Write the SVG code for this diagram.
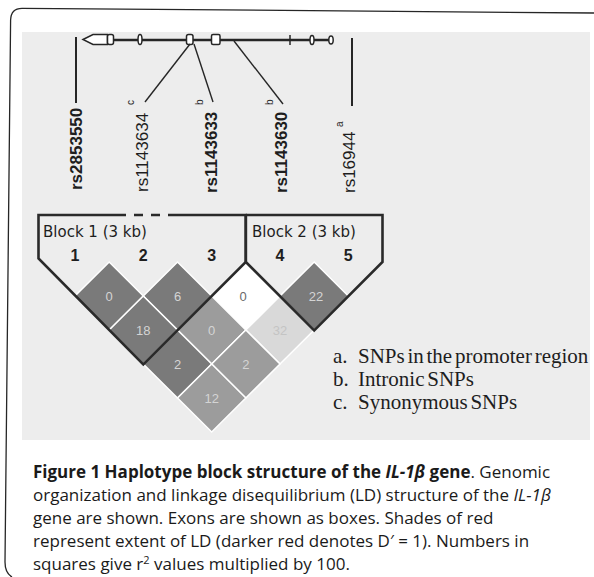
<svg xmlns="http://www.w3.org/2000/svg" width="594" height="577" viewBox="0 0 594 577">
  <style>
    .ink { stroke: #262626; fill: none; }
    .feat { stroke: #262626; stroke-width: 1.5; fill: #ffffff; }
    .rs { font-family: "Liberation Sans", Arial, sans-serif; font-size: 17px; font-weight: bold; fill: #1e1e1e; }
    .sup { font-family: "Liberation Sans", Arial, sans-serif; font-size: 10px; fill: #1e1e1e; }
    .blk { font-family: "DejaVu Sans", Tahoma, sans-serif; font-size: 15px; fill: #1e1e1e; }
    .idx { font-family: "Liberation Sans", Arial, sans-serif; font-size: 16px; font-weight: bold; fill: #1e1e1e; text-anchor: middle; }
    .cell { stroke: #ffffff; stroke-width: 1.5; }
    .dark { fill: #7a7a7a; }
    .mid { fill: #9c9c9c; }
    .pale { fill: #d9d9d9; }
    .blank { fill: #ffffff; }
    .val { font-family: "Liberation Sans", Arial, sans-serif; font-size: 13px; fill: #d4d4d4; text-anchor: middle; }
    .outline { stroke: #2a2a2a; stroke-width: 2.6; fill: none; stroke-linejoin: miter; }
    .leg { font-family: "Liberation Serif", "Times New Roman", serif; font-size: 21px; fill: #1e1e1e; word-spacing: -2.5px; }
    .cap { font-family: "Open Sans", "Noto Sans", sans-serif; font-size: 17px; fill: #1a1a1a; }
  </style>

  <!-- page frame (open on the right) -->
  <g id="frame">
    <path class="ink" stroke-width="1.3" d="M594,13 L22,8.3 Q11,8.3 10.6,20 L5,562 Q5,573 12,577"/>
  </g>

  <!-- speckled figure panel -->
  <rect id="panel" x="22" y="32" width="568" height="408" fill="#ededed"/>

  <!-- gene map: exons, promoter arrow and SNP pointers -->
  <g id="gene-map">
    <line class="ink" stroke-width="2.5" x1="112" y1="40" x2="332" y2="40"/>
    <path class="feat" d="M83,39.5 L93,34.5 H107.5 V44.5 H93 Z"/>
    <rect class="feat" x="107.5" y="34.5" width="6" height="10" rx="2"/>
    <ellipse class="feat" cx="140" cy="39.5" rx="2" ry="5"/>
    <rect class="feat" x="186.5" y="34.5" width="6.5" height="10" rx="2"/>
    <rect class="feat" x="211.5" y="34.5" width="8.5" height="10" rx="1.5"/>
    <line class="ink" stroke-width="1.5" x1="290" y1="35" x2="290" y2="45"/>
    <ellipse class="feat" cx="312" cy="40" rx="2" ry="4.5"/>
    <ellipse class="feat" cx="331" cy="40" rx="2.2" ry="4"/>
  </g>

  <g id="connectors">
    <line class="ink" stroke-width="2" x1="76" y1="37" x2="76" y2="103"/>
    <line class="ink" stroke-width="2" x1="352" y1="38" x2="352" y2="106"/>
    <line class="ink" stroke-width="1.4" x1="190" y1="44" x2="145" y2="102"/>
    <line class="ink" stroke-width="1.4" x1="194" y1="44" x2="213" y2="102"/>
    <line class="ink" stroke-width="1.4" x1="234" y1="41" x2="283" y2="104"/>
  </g>

  <!-- SNP names, read bottom to top -->
  <g id="snp-rs2853550"><text class="rs" transform="translate(82,190) rotate(-90)">rs2853550</text></g>
  <g id="snp-rs1143634">
    <text class="rs" style="font-weight:normal" transform="translate(148,192) rotate(-90)">rs1143634</text>
    <text class="sup" transform="translate(134,105) rotate(-90)">c</text>
  </g>
  <g id="snp-rs1143633">
    <text class="rs" transform="translate(217,193) rotate(-90)">rs1143633</text>
    <text class="sup" transform="translate(203,105) rotate(-90)">b</text>
  </g>
  <g id="snp-rs1143630">
    <text class="rs" transform="translate(287,193) rotate(-90)">rs1143630</text>
    <text class="sup" transform="translate(273,105) rotate(-90)">b</text>
  </g>
  <g id="snp-rs16944">
    <text class="rs" style="font-weight:normal" transform="translate(355,193) rotate(-90)">rs16944</text>
    <text class="sup" transform="translate(343,127) rotate(-90)">a</text>
  </g>

  <!-- LD matrix: one rotated square per SNP pair -->
  <g id="ld-1-2"><polygon class="cell dark" points="109.2,262 143.3,296 109.2,330 75,296"/><text class="val" x="109.2" y="300.5">0</text></g>
  <g id="ld-2-3"><polygon class="cell dark" points="177.5,262 211.7,296 177.5,330 143.3,296"/><text class="val" x="177.5" y="300.5">6</text></g>
  <g id="ld-3-4"><polygon class="cell blank" points="245.8,262 280,296 245.8,330 211.7,296"/><text class="val" style="fill:#6a6a6a" x="243" y="300.5">0</text></g>
  <g id="ld-4-5"><polygon class="cell dark" points="314.2,262 348.3,296 314.2,330 280,296"/><text class="val" x="316" y="300.5">22</text></g>
  <g id="ld-1-3"><polygon class="cell dark" points="143.3,296 177.5,330 143.3,364 109.2,330"/><text class="val" x="143.3" y="334.5">18</text></g>
  <g id="ld-2-4"><polygon class="cell mid" points="211.7,296 245.8,330 211.7,364 177.5,330"/><text class="val" x="211.7" y="334.5">0</text></g>
  <g id="ld-3-5"><polygon class="cell pale" points="280,296 314.2,330 280,364 245.8,330"/><text class="val" style="fill:#c4c4c4" x="280" y="334.5">32</text></g>
  <g id="ld-1-4"><polygon class="cell dark" points="177.5,330 211.7,364 177.5,398 143.3,364"/><text class="val" x="177.5" y="368.5">2</text></g>
  <g id="ld-2-5"><polygon class="cell mid" points="245.8,330 280,364 245.8,398 211.7,364"/><text class="val" x="245.8" y="368.5">2</text></g>
  <g id="ld-1-5"><polygon class="cell mid" points="211.7,364 245.8,398 211.7,432 177.5,398"/><text class="val" x="211.7" y="402.5">12</text></g>

  <!-- haplotype block outlines -->
  <g id="block-1">
    <path class="outline" d="M117,215 H38.5 V258.5 L143.3,364.5 L245.8,262 V215 H173"/>
    <path class="outline" stroke-dasharray="9,8" d="M117,215 H173"/>
    <text class="blk" x="43" y="237">Block 1 (3 kb)</text>
  </g>
  <g id="block-2">
    <path class="outline" d="M245.8,215 V262 L314.2,330.3 L382.5,262 V215 H245.8"/>
    <text class="blk" x="252" y="237">Block 2 (3 kb)</text>
  </g>
  <g id="marker-index">
    <text class="idx" x="75" y="261">1</text>
    <text class="idx" x="143.3" y="261">2</text>
    <text class="idx" x="211.7" y="261">3</text>
    <text class="idx" x="280" y="261">4</text>
    <text class="idx" x="348.3" y="261">5</text>
  </g>

  <!-- key to superscripts -->
  <g id="legend">
    <text class="leg" x="333" y="363">a.</text><text class="leg" x="358" y="363">SNPs in the promoter region</text>
    <text class="leg" x="333" y="386">b.</text><text class="leg" x="358" y="386">Intronic SNPs</text>
    <text class="leg" x="333" y="409">c.</text><text class="leg" x="358" y="409">Synonymous SNPs</text>
  </g>

  <g id="caption">
    <text class="cap" x="33" y="478"><tspan font-weight="bold">Figure 1 Haplotype block structure of the <tspan font-style="italic">IL-1β</tspan> gene</tspan>. Genomic</text>
    <text class="cap" x="33" y="501">organization and linkage disequilibrium (LD) structure of the <tspan font-style="italic">IL-1β</tspan></text>
    <text class="cap" x="33" y="524">gene are shown. Exons are shown as boxes. Shades of red</text>
    <text class="cap" x="33" y="547">represent extent of LD (darker red denotes D′ = 1). Numbers in</text>
    <text class="cap" x="33" y="570">squares give r<tspan font-size="11px" dy="-6">2</tspan><tspan dy="6"> values multiplied by 100.</tspan></text>
  </g>
</svg>
